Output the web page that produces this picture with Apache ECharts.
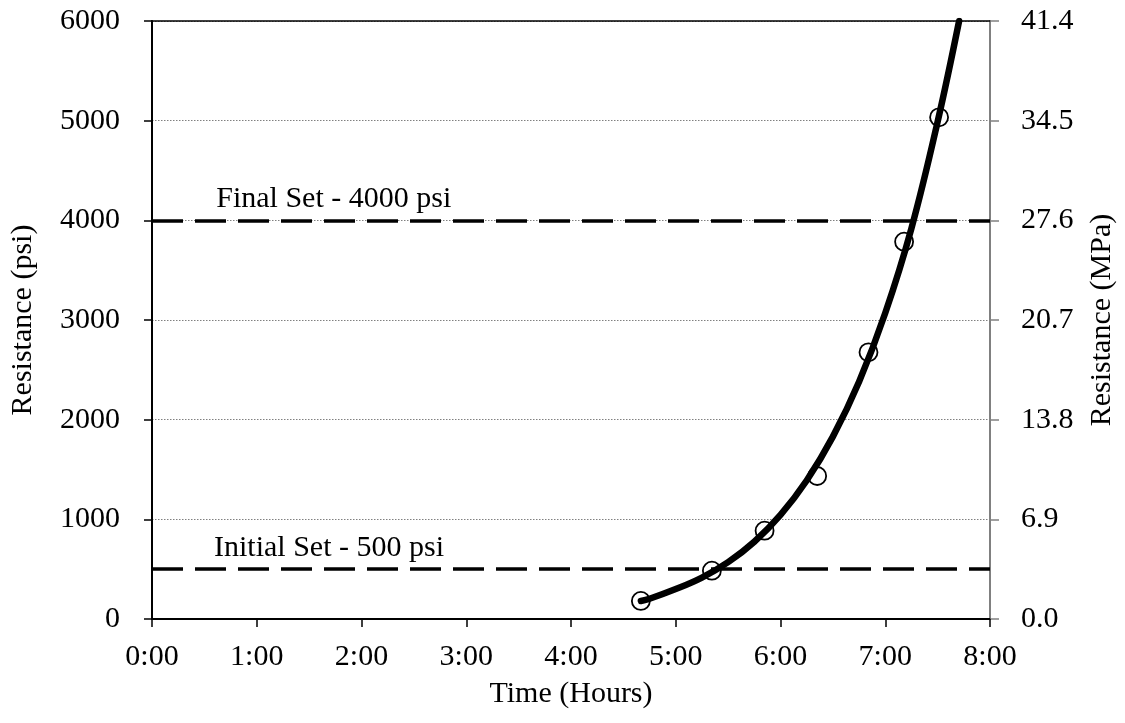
<!DOCTYPE html>
<html>
<head>
<meta charset="utf-8">
<script src="https://cdn.jsdelivr.net/npm/echarts@6/dist/echarts.min.js"></script>
<style>
  html, body { margin: 0; padding: 0; background: #fff; }
  #chart { width: 1125px; height: 723px; }
</style>
</head>
<body>
<div id="chart"></div>
<script>
// measured penetration resistance (time in hours, psi)
const measTime = [4.667, 5.345, 5.848, 6.35, 6.84, 7.18, 7.514]
const measPsi = [181, 485, 886, 1435, 2676, 3786, 5034]

// fitted curve
const fitTime = [4.667, 4.75, 5.0, 5.25, 5.5, 5.75, 6.0, 6.25, 6.5, 6.75, 7.0, 7.25, 7.5, 7.705]
const fitPsi = [181, 203, 300, 415, 570, 775, 1045, 1390, 1830, 2380, 3070, 3920, 4990, 6000]

// set limits
const setPsi = [500, 4000]
const setLabels = ['Initial Set - 500 psi', 'Final Set - 4000 psi']
const setLabelTime = [1.69, 1.735]

const timeTicks = ['0:00', '1:00', '2:00', '3:00', '4:00', '5:00', '6:00', '7:00', '8:00']

const font = 'Liberation Serif'
const fs = 30

const chart = echarts.init(document.getElementById('chart'))

chart.setOption({
    animation: false,
    grid: { left: 151, right: 134, top: 21, bottom: 104 },
    xAxis: [
        {
            type: 'value',
            min: 0,
            max: 8,
            interval: 1,
            position: 'bottom',
            name: 'Time (Hours)',
            nameLocation: 'middle',
            nameGap: 60,
            nameTextStyle: { fontFamily: font, fontSize: fs, color: '#000' },
            axisLine: { onZero: false, lineStyle: { color: '#000', width: 2 } },
            axisTick: { inside: false, length: 8, lineStyle: { color: '#000', width: 1.5 } },
            axisLabel: {
                margin: 23,
                fontFamily: font, fontSize: fs, color: '#000',
                formatter: v => timeTicks[Math.round(v)]
            },
            splitLine: { show: false }
        },
        {
            type: 'value',
            min: 0,
            max: 8,
            position: 'top',
            axisLine: { onZero: false, lineStyle: { color: '#000', width: 1.5 } },
            axisTick: { show: false },
            axisLabel: { show: false },
            splitLine: { show: false }
        }
    ],
    yAxis: [
        {
            type: 'value',
            min: 0,
            max: 6000,
            interval: 1000,
            position: 'left',
            name: 'Resistance (psi)',
            nameLocation: 'middle',
            nameRotate: 90,
            nameGap: 114,
            nameTextStyle: { fontFamily: font, fontSize: fs, color: '#000' },
            axisLine: { show: true, onZero: false, lineStyle: { color: '#000', width: 2 } },
            axisTick: { show: true, length: 8, lineStyle: { color: '#000', width: 1.5 } },
            axisLabel: {
                margin: 32, fontFamily: font, fontSize: fs, color: '#000',
                formatter: v => String(v)
            },
            splitLine: { show: true, lineStyle: { color: '#808080', width: 1, type: [1.5, 1.5] } }
        },
        {
            type: 'value',
            min: 0,
            max: 41.4,
            interval: 6.9,
            position: 'right',
            name: 'Resistance (MPa)',
            nameLocation: 'middle',
            nameRotate: 90,
            nameGap: 97,
            nameTextStyle: { fontFamily: font, fontSize: fs, color: '#000' },
            axisLine: { show: true, onZero: false, lineStyle: { color: '#808080', width: 2 } },
            axisTick: { show: true, length: 9, lineStyle: { color: '#808080', width: 1.5 } },
            axisLabel: {
                margin: 31, fontFamily: font, fontSize: fs, color: '#000',
                formatter: v => v.toFixed(1)
            },
            splitLine: { show: false }
        }
    ],
    series: [
        {
            name: 'set limits',
            type: 'line',
            data: [],
            markLine: {
                silent: true,
                symbol: 'none',
                label: { show: false },
                lineStyle: { color: '#000', width: 3.5, type: [31, 12] },
                data: setPsi.map(v => ({ yAxis: v }))
            }
        },
        {
            name: 'set labels',
            type: 'scatter',
            symbolSize: 0,
            itemStyle: { opacity: 1 },
            data: setPsi.map((v, i) => ({ value: [setLabelTime[i], v], name: setLabels[i] })),
            label: {
                show: true,
                position: 'top',
                distance: 6,
                fontFamily: font,
                fontSize: fs,
                color: '#000',
                formatter: p => p.name
            }
        },
        {
            name: 'measured',
            type: 'scatter',
            z: 2,
            symbol: 'circle',
            symbolSize: 18,
            itemStyle: { color: '#fff', borderColor: '#000', borderWidth: 1.8, opacity: 1 },
            data: measTime.map((t, i) => [t, measPsi[i]])
        },
        {
            name: 'fit',
            type: 'line',
            z: 3,
            smooth: 0.4,
            showSymbol: false,
            lineStyle: { color: '#000', width: 6.5, cap: 'round' },
            data: fitTime.map((t, i) => [t, fitPsi[i]])
        }
    ]
})
</script>
</body>
</html>
